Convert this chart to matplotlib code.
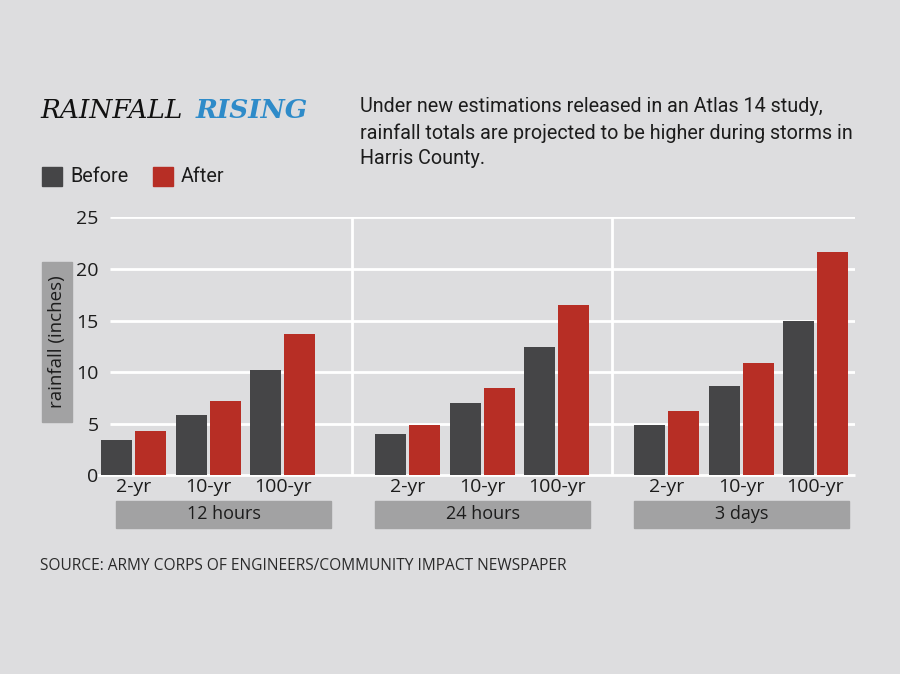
import matplotlib
matplotlib.use('Agg')
import matplotlib.pyplot as plt
from matplotlib.patches import Rectangle
from matplotlib import font_manager

# data (inches of rainfall)
periods = ['2-yr', '10-yr', '100-yr']
durations = ['12 hours', '24 hours', '3 days']
before_12h = [3.4, 5.8, 10.2]
after_12h = [4.3, 7.2, 13.7]
before_24h = [4.0, 7.0, 12.4]
after_24h = [4.9, 8.5, 16.5]
before_3d = [4.9, 8.7, 15.0]
after_3d = [6.2, 10.9, 21.6]
yticks = [0, 5, 10, 15, 20, 25]

before = [before_12h, before_24h, before_3d]
after = [after_12h, after_24h, after_3d]

BG = '#dddddf'
C_BEFORE = '#454547'
C_AFTER = '#b72e25'
C_BOX = '#a2a2a3'
C_BLUE = '#2e8bc9'
C_TEXT = '#1c1c1c'

names = {f.name for f in font_manager.fontManager.ttflist}
if 'Liberation Sans Narrow' in names:
    NARROW, sub_size = 'Liberation Sans Narrow', 15
else:
    NARROW, sub_size = 'Roboto', 14.2
SANS = 'Open Sans'

W, H = 900, 674
def fx(px):
    return px / W
def fy(py):
    return 1 - py / H

fig = plt.figure(figsize=(9, 6.74), dpi=100, facecolor=BG)

# plot area (x data units are pixels so the uneven panel spacing can be kept)
ax = fig.add_axes([fx(100), fy(475.3), fx(855) - fx(100), fy(217.3) - fy(475.3)])
ax.set_facecolor(BG)
ax.set_xlim(100, 855)
ax.set_ylim(0, 25)

group_centers = [208, 482, 741]
pair_offsets = [-74.5, 0, 74.5]
bar_w = 31
bar_shift = 17

ax.hlines(yticks[1:], 110, 855, color='white', lw=2, zorder=0)
ax.hlines(0, 97, 855, color='white', lw=2, zorder=0, clip_on=False)
ax.vlines([352, 612], 0, 25, color='white', lw=2, zorder=0)

xt = []
for g, c in enumerate(group_centers):
    for p, off in enumerate(pair_offsets):
        x = c + off
        ax.bar(x - bar_shift, before[g][p], width=bar_w, color=C_BEFORE, zorder=2)
        ax.bar(x + bar_shift, after[g][p], width=bar_w, color=C_AFTER, zorder=2)
        xt.append(x)

ax.set_xticks(xt, periods * 3)
ax.set_yticks(yticks, [str(v) for v in yticks])
ax.tick_params(length=0, labelsize=14, colors=C_TEXT)
ax.tick_params(axis='x', pad=2)
ax.tick_params(axis='y', pad=1)
for lab in ax.get_xticklabels() + ax.get_yticklabels():
    lab.set_family(SANS)
for s in ax.spines.values():
    s.set_visible(False)

# duration boxes under each panel
box_left = [116, 375, 634]
for left, name in zip(box_left, durations):
    fig.patches.append(Rectangle((fx(left), fy(527.7)), 215 / W, 27 / H,
                                 transform=fig.transFigure, color=C_BOX, zorder=0))
    fig.text(fx(left + 107.5), fy(514), name, ha='center', va='center',
             family=SANS, size=13, color=C_TEXT)

# y label box
fig.patches.append(Rectangle((fx(41.7), fy(421.7)), 30 / W, 160 / H,
                             transform=fig.transFigure, color=C_BOX, zorder=0))
fig.text(fx(56.7), fy(341.7), 'rainfall (inches)', rotation=90, ha='center',
         va='center', family=SANS, size=13.5, color=C_TEXT)

# title
fig.text(fx(40), fy(111), 'RAINFALL', family='DejaVu Serif', style='italic',
         size=19, va='center', color='#111111')
fig.text(fx(196), fy(111), 'RISING', family='DejaVu Serif', style='italic',
         weight='bold', size=19, va='center', color=C_BLUE)

# legend
fig.patches.append(Rectangle((fx(41.7), fy(186)), 20 / W, 19 / H,
                             transform=fig.transFigure, color=C_BEFORE))
fig.text(fx(70), fy(177), 'Before', family=NARROW, size=sub_size, va='center', color=C_TEXT)
fig.patches.append(Rectangle((fx(152.7), fy(186)), 20 / W, 19 / H,
                             transform=fig.transFigure, color=C_AFTER))
fig.text(fx(181), fy(177), 'After', family=NARROW, size=sub_size, va='center', color=C_TEXT)

# subtitle
sub_lines = ['Under new estimations released in an Atlas 14 study,',
             'rainfall totals are projected to be higher during storms in',
             'Harris County.']
for line, y in zip(sub_lines, [107, 133, 158]):
    fig.text(fx(360), fy(y), line, family=NARROW, size=sub_size, va='center', color=C_TEXT)

fig.text(fx(40), fy(566), 'SOURCE: ARMY CORPS OF ENGINEERS/COMMUNITY IMPACT NEWSPAPER',
         family=SANS, size=11.2, va='center', color='#2a2a2a')

fig.savefig('out.png', dpi=100, facecolor=BG)
